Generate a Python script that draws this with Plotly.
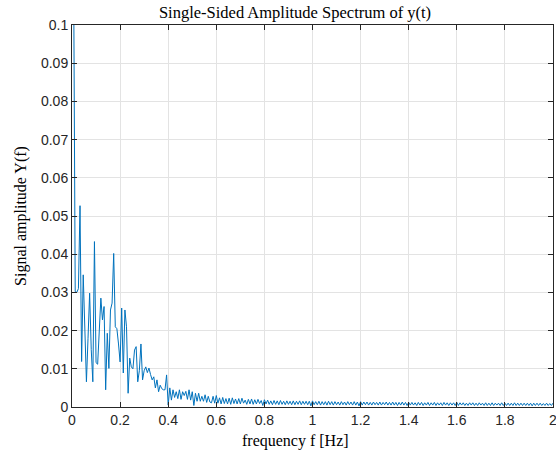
import numpy as np
import plotly.graph_objects as go

# Single-sided amplitude spectrum values, frequency step 1/150 Hz
amp_low = [
    0.2000, 0.1250, 0.0302, 0.0300, 0.0310, 0.0527, 0.0119, 0.0346, 0.0220, 0.0066,
    0.0180, 0.0298, 0.0150, 0.0066, 0.0433, 0.0116, 0.0112, 0.0210, 0.0285, 0.0228,
    0.0263, 0.0045, 0.0193, 0.0101, 0.0254, 0.0272, 0.0402, 0.0210, 0.0205, 0.0165,
    0.0118, 0.0259, 0.0089, 0.0254, 0.0210, 0.0036, 0.0128, 0.0105, 0.0100, 0.0149,
    0.0158, 0.0066, 0.0095, 0.0165, 0.0071, 0.0095, 0.0105, 0.0090, 0.0102, 0.0085,
    0.0071, 0.0079, 0.0050, 0.0071, 0.0040, 0.0057, 0.0048, 0.0045, 0.0045, 0.0084,
]
amp_mid = [
    0.0005, 0.0050, 0.0018, 0.0045, 0.0025, 0.0040, 0.0022, 0.0045, 0.0020, 0.0040,
    0.0030, 0.0041, 0.0020, 0.0045, 0.0018, 0.0040, 0.0004, 0.0036, 0.0015, 0.0036,
    0.0015, 0.0028, 0.0015, 0.0032, 0.0012, 0.0028, 0.0013, 0.0011, 0.0028, 0.0010,
    0.0030, 0.0010, 0.0024, 0.0008, 0.0025, 0.0009, 0.0022, 0.0008, 0.0023, 0.0007,
    0.0024, 0.0009, 0.0021, 0.0008, 0.0022, 0.0008, 0.0023, 0.0010, 0.0018, 0.0007,
    0.0020, 0.0008, 0.0021, 0.0007, 0.0019, 0.0008, 0.0020, 0.0009, 0.0017, 0.0004,
    0.0019, 0.0008, 0.0018, 0.0007, 0.0016, 0.0006, 0.0017, 0.0007, 0.0016, 0.0006,
    0.0017, 0.0007, 0.0015, 0.0006, 0.0016, 0.0007, 0.0015, 0.0006, 0.0016, 0.0006,
    0.0015, 0.0007, 0.0016, 0.0006, 0.0015, 0.0007, 0.0015, 0.0006, 0.0015, 0.0003,
    0.0016,
]
amp_tail = [
    0.0006, 0.0014, 0.0006, 0.0015, 0.0005, 0.0014, 0.0006, 0.0014, 0.0005, 0.0015,
    0.0006, 0.0014, 0.0005, 0.0014, 0.0006, 0.0013, 0.0005, 0.0014, 0.0006, 0.0013,
    0.0005, 0.0014, 0.0006, 0.0013, 0.0005, 0.0014, 0.0005, 0.0013, 0.0003, 0.0014,
    0.0005, 0.0013, 0.0006, 0.0013, 0.0005, 0.0012, 0.0005, 0.0013, 0.0006, 0.0012,
    0.0005, 0.0013, 0.0005, 0.0012, 0.0006, 0.0013, 0.0005, 0.0012, 0.0005, 0.0013,
    0.0005, 0.0012, 0.0004, 0.0012, 0.0005, 0.0013, 0.0005, 0.0012, 0.0004, 0.0012,
    0.0005, 0.0012, 0.0005, 0.0011, 0.0004, 0.0012, 0.0005, 0.0012, 0.0004, 0.0011,
    0.0005, 0.0012, 0.0004, 0.0011, 0.0005, 0.0012, 0.0004, 0.0011, 0.0005, 0.0011,
    0.0004, 0.0012, 0.0005, 0.0011, 0.0004, 0.0011, 0.0005, 0.0011, 0.0004, 0.0012,
    0.0004, 0.0011, 0.0005, 0.0011, 0.0004, 0.0010, 0.0004, 0.0011, 0.0005, 0.0011,
    0.0004, 0.0010, 0.0004, 0.0011, 0.0005, 0.0010, 0.0004, 0.0011, 0.0004, 0.0010,
    0.0004, 0.0011, 0.0004, 0.0010, 0.0005, 0.0010, 0.0004, 0.0011, 0.0004, 0.0010,
    0.0004, 0.0010, 0.0004, 0.0010, 0.0004, 0.0011, 0.0004, 0.0010, 0.0004, 0.0010,
    0.0004, 0.0010, 0.0004, 0.0010, 0.0004, 0.0010, 0.0003, 0.0010, 0.0004, 0.0010,
    0.0004, 0.0010, 0.0004, 0.0009, 0.0004, 0.0010, 0.0004, 0.0009, 0.0004, 0.0010,
    0.0004, 0.0009, 0.0004, 0.0010,
]
amplitude = amp_low + amp_mid + amp_tail
freq_step = 1.0 / 150.0
frequency = [i * freq_step for i in range(len(amplitude))]

x_ticks = [0, 0.2, 0.4, 0.6, 0.8, 1, 1.2, 1.4, 1.6, 1.8, 2]
x_ticktext = ["0", "0.2", "0.4", "0.6", "0.8", "1", "1.2", "1.4", "1.6", "1.8", "2"]
y_ticks = [0, 0.01, 0.02, 0.03, 0.04, 0.05, 0.06, 0.07, 0.08, 0.09, 0.1]
y_ticktext = ["0", "0.01", "0.02", "0.03", "0.04", "0.05", "0.06", "0.07", "0.08", "0.09", "0.1"]

fig = go.Figure()
fig.add_trace(go.Scatter(
    x=frequency, y=amplitude, mode="lines",
    line=dict(color="#0072BD", width=1),
    showlegend=False, hoverinfo="skip",
))

serif = "Liberation Serif, Times New Roman, serif"
axis_common = dict(
    showline=True, linecolor="#262626", linewidth=1, mirror="ticks",
    ticks="inside", ticklen=5, tickcolor="#262626", tickwidth=1,
    showgrid=True, gridcolor="#e3e3e3", gridwidth=1,
    zeroline=False, automargin=False, ticklabeloverflow="allow",
    tickfont=dict(family="Liberation Sans, Arial, sans-serif", size=14, color="#262626"),
)

fig.update_layout(
    width=556, height=457,
    margin=dict(l=72, r=3, t=25, b=50),
    paper_bgcolor="white", plot_bgcolor="white",
    title=dict(
        text="Single-Sided Amplitude Spectrum of y(t)",
        font=dict(family=serif, size=16.5, color="black"),
        x=295 / 556, xref="container", xanchor="center",
        y=1 - 12 / 457, yref="container", yanchor="middle",
    ),
    xaxis=dict(
        range=[0, 2], tickvals=x_ticks, ticktext=x_ticktext,
        **axis_common,
    ),
    yaxis=dict(
        range=[0, 0.1], tickvals=y_ticks, ticktext=y_ticktext,
        title=dict(text="Signal amplitude Y(f)", standoff=10,
                   font=dict(family=serif, size=16, color="black")),
        **axis_common,
    ),
    annotations=[dict(
        text="frequency f [Hz]", showarrow=False,
        xref="paper", yref="paper",
        x=(295 - 72) / 481, y=(407 - 441) / 382,
        xanchor="center", yanchor="middle",
        font=dict(family=serif, size=16, color="black"),
    )],
)

fig.write_html(
    "out.html",
    config={"displayModeBar": False},
    post_script="document.body.style.margin='0';document.body.style.overflow='hidden';",
)
